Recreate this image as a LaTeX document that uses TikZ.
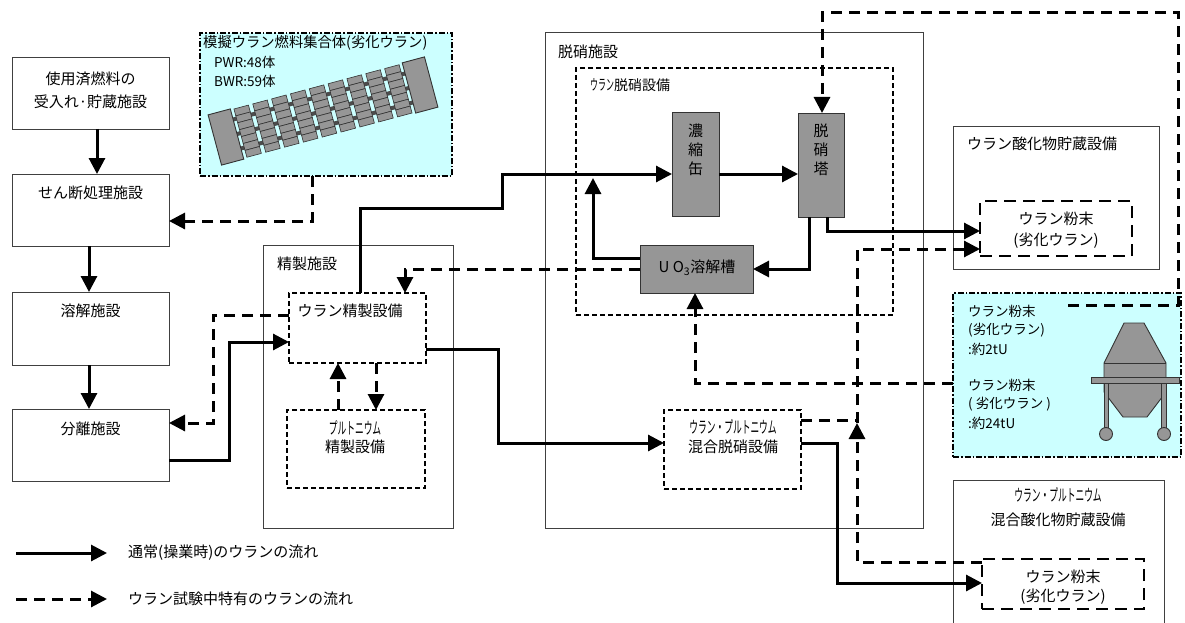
\documentclass[tikz,border=0pt]{standalone}
\usepackage{fontspec}
\setmainfont{Noto Sans CJK JP}
\newfontfamily\hwf[FakeStretch=0.53]{Noto Sans CJK JP}
\usetikzlibrary{arrows.meta}
\definecolor{cyanbg}{HTML}{CCFFFF}
\definecolor{unitgray}{HTML}{969696}
\begin{document}
\begin{tikzpicture}[x=1pt,y=-1pt,
 fac/.style={draw=black!75,line width=0.9pt,rectangle,inner sep=0pt,outer sep=0pt},
 sub/.style={draw=black,line width=1.5pt,dash pattern=on 5pt off 3pt,inner sep=0pt,outer sep=0pt},
 pow/.style={draw=black,line width=2.8pt,dash pattern=on 12pt off 7pt,inner sep=0pt,outer sep=0pt},
 cy/.style={draw=black,fill=cyanbg,line width=1.3pt,dash pattern=on 6pt off 2pt on 1.5pt off 2pt,inner sep=0pt,outer sep=0pt},
 unit/.style={draw=black!80,fill=unitgray,line width=0.9pt,inner sep=0pt,outer sep=0pt},
 flow/.style={line width=3pt,-{Triangle[length=16pt,width=16pt]}},
 tflow/.style={line width=3pt,dash pattern=on 11pt off 7pt,-{Triangle[length=16pt,width=16pt]}},
 tline/.style={line width=3pt,dash pattern=on 11pt off 7pt},
 lbl/.style={font=\fontsize{15}{23}\selectfont,inner sep=0pt,align=center},
 lbll/.style={font=\fontsize{15}{23}\selectfont,inner sep=0pt,anchor=west},
 sm/.style={font=\fontsize{13.5}{19}\selectfont,inner sep=0pt,anchor=west},
 hw/.style={font=\hwf\fontsize{16.5}{20}\selectfont,inner sep=0pt},
]
\useasboundingbox (0,0) rectangle (1185,623);

% ---------- boxes ----------
\node[fac,minimum width=157pt,minimum height=72pt] (recv) at (90.5,93) {};
\node[fac,minimum width=157pt,minimum height=72pt] (shear) at (90.5,210) {};
\node[fac,minimum width=157pt,minimum height=73pt] (diss) at (90.5,328.5) {};
\node[fac,minimum width=157pt,minimum height=72pt] (sepa) at (90.5,445) {};

\node[cy,minimum width=252pt,minimum height=143pt] (fuel) at (326,104.5) {};

\node[fac,minimum width=190pt,minimum height=283pt] (purif) at (358,386.5) {};
\node[sub,minimum width=137pt,minimum height=70pt] (upur) at (357.5,328) {};
\node[sub,minimum width=138pt,minimum height=78pt] (pupur) at (356,449) {};

\node[fac,minimum width=378pt,minimum height=496pt] (denit) at (734,280) {};
\node[sub,minimum width=317pt,minimum height=247pt] (uden) at (734.5,191.5) {};
\node[unit,minimum width=47pt,minimum height=104pt] (evap) at (695.5,164) {};
\node[unit,minimum width=46pt,minimum height=104pt] (tower) at (821,165) {};
\node[unit,minimum width=113pt,minimum height=48pt] (tank) at (696.5,269) {};
\node[sub,minimum width=137pt,minimum height=79pt] (mox) at (732.5,449.5) {};

\node[fac,minimum width=206pt,minimum height=143pt] (uox) at (1056,197.5) {};
\node[pow,minimum width=152pt,minimum height=55pt] (upow) at (1056,228.5) {};

\node[cy,minimum width=228pt,minimum height=164pt] (cyan2) at (1067,375) {};

\node[inner sep=0pt,outer sep=0pt,minimum width=211pt,minimum height=143pt] (moxst) at (1058.5,551.5) {};
\draw[draw=black!75,line width=0.9pt] (moxst.south west) -- (moxst.north west) -- (moxst.north east) -- (moxst.south east);
\node[pow,minimum width=162pt,minimum height=50pt] (moxpow) at (1063,584) {};

% ---------- fuel assembly drawing ----------
\begin{scope}[shift={(323,111)},rotate=15]
 \foreach \yy in {-15,0,15} \draw[line width=4pt,black!70] (-90,\yy) -- (90,\yy);
 \foreach \i in {0,...,8}{
   \pgfmathsetmacro\cx{-78+19.5*\i}
   \foreach \j in {0,...,6}{
     \draw[fill=unitgray,draw=black!80,line width=0.6pt] (\cx-7.5,-25+\j*7.143) rectangle ++(15,7.143);
   }
 }
 \draw[unit] (-112,-26) rectangle (-89,26);
 \draw[unit] (89,-26) rectangle (112,26);
\end{scope}

% ---------- hopper drawing ----------
\draw[unit] (1124,323) -- (1144,323) -- (1166,363) -- (1166,392) -- (1147,417) -- (1123,417) -- (1104,392) -- (1104,363) -- cycle;
\draw[black!80,line width=0.9pt] (1104,363) -- (1166,363);
\draw[unit] (1104,383) rectangle (1108.5,428);
\draw[unit] (1161.5,383) rectangle (1166,428);
\draw[unit] (1091,377) rectangle (1179,383);
\draw[unit] (1106,434) circle (6.5);
\draw[unit] (1164,434) circle (6.5);

% ---------- texts ----------
\node[lbl] (t1) at (90.5,90) {使用済燃料の\\受入れ·貯蔵施設};
\node[lbl] (t2) at (90.5,193) {せん断処理施設};
\node[lbl] (t3) at (90.5,311) {溶解施設};
\node[lbl] (t4) at (90.5,429) {分離施設};
\node[lbll,font=\fontsize{14.3}{20}\selectfont] (t5) at (203,43) {模擬ウラン燃料集合体(劣化ウラン)};
\node[sm] (t6) at (214,62) {PWR:48体};
\node[sm] (t7) at (214,81) {BWR:59体};
\node[lbll] (t8) at (277,264) {精製施設};
\node[lbl] (t9) at (350,311) {ウラン精製設備};
\node[hw] (t10) at (355,428) {プルトニウム};
\node[lbl] (t11) at (355,447) {精製設備};
\node[lbll] (t12) at (558,52) {脱硝施設};
\node[lbll,font=\fontsize{14}{20}\selectfont] (t13) at (590,85) {{\hwf\fontsize{15}{20}\selectfont ウラン}脱硝設備};
\node[lbl] (t14) at (695.5,131) {濃};
\node[lbl] (t15) at (695.5,150) {縮};
\node[lbl] (t16) at (695.5,169) {缶};
\node[lbl] (t17) at (821,131) {脱};
\node[lbl] (t18) at (821,150) {硝};
\node[lbl] (t19) at (821,169) {塔};
\node[lbl] (t20) at (697,268) {U O\textsubscript{3}溶解槽};
\node[hw] (t21) at (733,427) {ウラン・プルトニウム};
\node[lbl] (t22) at (733,447) {混合脱硝設備};
\node[lbll] (t23) at (967,144) {ウラン酸化物貯蔵設備};
\node[lbl] (t24) at (1056,219) {ウラン粉末};
\node[lbl] (t25) at (1056,241) {(劣化ウラン)};
\node[sm] (t26) at (968,311) {ウラン粉末};
\node[sm] (t27) at (968,330) {(劣化ウラン)};
\node[sm] (t28) at (968,349) {:約2tU};
\node[sm] (t29) at (968,385) {ウラン粉末};
\node[sm] (t30) at (968,404) {( 劣化ウラン )};
\node[sm] (t31) at (968,423) {:約24tU};
\node[hw] (t32) at (1058,495) {ウラン・プルトニウム};
\node[lbl] (t33) at (1058,520) {混合酸化物貯蔵設備};
\node[lbl] (t34) at (1063,577) {ウラン粉末};
\node[lbl] (t35) at (1063,597) {(劣化ウラン)};

% ---------- connectors ----------
\draw[flow] (recv.south -| 97,0) -- (shear.north -| 97,0);
\draw[flow] (shear.south -| 89,0) -- (diss.north -| 89,0);
\draw[flow] (diss.south -| 89,0) -- (sepa.north -| 89,0);
\draw[tflow] (fuel.south -| 312,0) |- (shear.east |- 0,221);
\draw[flow] (sepa.east |- 0,460) -| (229,342) -- (upur.west |- 0,342);
\draw[tflow] (upur.west |- 0,315) -| (213,423) -- (sepa.east |- 0,423);
\draw[flow] (upur.north -| 360,0) |- (502,208) |- (evap.west |- 0,174);
\draw[flow] (evap.east |- 0,174) -- (tower.west |- 0,174);
\draw[flow] (tower.south -| 809,0) |- (tank.east);
\draw[flow] (tank.west |- 0,258) -| (593,178);
\draw[flow] (tower.south -| 827,0) |- (upow.west |- 0,231);
\draw[tflow] (tank.west) -| (upur.north -| 405,0);
\draw[tflow] (cyan2.west |- 0,383) -| (tank.south -| 695,0);
\coordinate (c14) at (1068,305);
\draw[tflow] (c14) -| (1178,13) -| (tower.north -| 822,0);
\draw[flow] (upur.east |- 0,349) -| (498,443) -- (mox.west |- 0,443);
\draw[flow] (mox.east |- 0,443) -| (837,583) -- (moxpow.west |- 0,583);
\coordinate (j1) at (857,423);
\draw[tflow] (moxpow.west |- 0,562) -| (j1);
\draw[tflow] (j1) |- (upow.west |- 0,249);
\draw[tline] (mox.east |- 0,420) -- (857,420);
\draw[tflow] (pupur.north -| 338,0) -- (upur.south -| 338,0);
\draw[tflow] (upur.south -| 376,0) -- (pupur.north -| 376,0);

% ---------- legend ----------
\coordinate (l1a) at (16,553);
\coordinate (l1b) at (107,553);
\coordinate (l2a) at (16,599);
\coordinate (l2b) at (107,599);
\draw[flow] (l1a) -- (l1b);
\draw[tflow] (l2a) -- (l2b);
\node[lbll] (t36) at (128,553) {通常(操業時)のウランの流れ};
\node[lbll] (t37) at (128,599) {ウラン試験中特有のウランの流れ};
\end{tikzpicture}
\end{document}
